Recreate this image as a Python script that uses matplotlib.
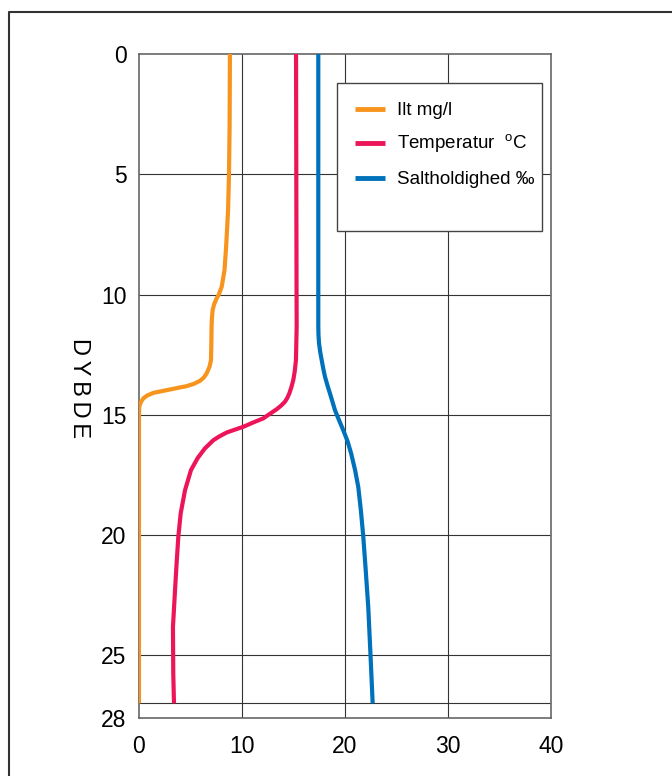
import matplotlib.pyplot as plt
from matplotlib.lines import Line2D
from matplotlib.patches import Rectangle

plt.rcParams['font.family'] = ['Liberation Sans', 'DejaVu Sans']
plt.rcParams['mathtext.fontset'] = 'custom'
plt.rcParams['mathtext.rm'] = 'Liberation Sans'

# -------- data -----------------------------
depth_ilt = [0, 3, 5, 6.5, 8.1, 9.0, 9.68, 10.0, 10.16, 10.4, 10.65, 11.0, 11.34,
             12.2, 12.73, 13.0, 13.28, 13.45, 13.59, 13.72, 13.81, 13.88, 13.95,
             14.02, 14.09, 14.2, 14.32, 14.5, 14.67, 15.0, 27.0]
ilt = [8.83, 8.8, 8.74, 8.65, 8.45, 8.3, 8.03, 7.75, 7.54, 7.3, 7.15, 7.08, 7.05,
       7.02, 6.99, 6.85, 6.57, 6.3, 5.92, 5.3, 4.63, 3.8, 3.01,
       2.2, 1.39, 0.8, 0.42, 0.15, 0.03, 0.0, 0.0]

depth_temp = [0, 10, 11.34, 12.73, 13.2, 13.56, 13.85, 14.11, 14.3, 14.46, 14.62,
              14.77, 14.95, 15.15, 15.32, 15.5, 15.62, 15.74, 15.9, 16.06, 16.4,
              16.8, 17.3, 18.14, 19.1, 20.08, 21.2, 22.3, 23.82, 25.76, 27.0]
temp = [15.25, 15.3, 15.31, 15.24, 15.12, 14.98, 14.8, 14.6, 14.4, 14.17, 13.8,
        13.37, 12.75, 12.07, 11.1, 10.13, 9.3, 8.51, 7.8, 7.22, 6.4,
        5.7, 5.05, 4.47, 4.05, 3.82, 3.65, 3.5, 3.3, 3.33, 3.4]

depth_salt = [0, 11.3, 11.7, 12.03, 12.4, 12.73, 13.1, 13.42, 13.75, 14.11, 14.45,
              14.81, 15.2, 15.64, 16.1, 16.61, 17.3, 18.0, 19.0, 20.08, 21.5,
              22.99, 25.0, 27.0]
salt = [17.41, 17.41, 17.43, 17.48, 17.6, 17.74, 17.9, 18.06, 18.28, 18.54, 18.78,
        19.03, 19.4, 19.83, 20.25, 20.6, 20.98, 21.29, 21.55, 21.78, 22.02,
        22.26, 22.48, 22.69]

labels = ['Ilt mg/l', r'Temperatur  $^{\rm o}$C', 'Saltholdighed \u2030']
colors = ['#F7941D', '#EC1559', '#0072BC']

xticks = [0, 10, 20, 30, 40]
yticks = [0, 5, 10, 15, 20, 25]
y_bottom = 27.63

# -------- figure ----------
fig = plt.figure(figsize=(6.72, 7.76), dpi=100)
ax = fig.add_axes([0.2068, 0.0741, 0.6131, 0.8563])

for d, v, c in zip([depth_ilt, depth_temp, depth_salt], [ilt, temp, salt], colors):
    ax.plot(v, d, color=c, lw=3, solid_capstyle='butt', solid_joinstyle='round',
            zorder=3)

ax.set_xlim(0, 40)
ax.set_ylim(y_bottom, 0)
ax.set_xticks(xticks)
ax.set_yticks(yticks + [y_bottom])
ax.set_yticklabels([str(t) for t in yticks] + ['28'])
ax.tick_params(length=0, labelsize=16.5)
ax.tick_params(axis='y', pad=9)
ax.tick_params(axis='x', pad=12)

# grid
for t in [10, 20, 30]:
    ax.axvline(t, color='#333333', lw=0.8, zorder=1)
for t in [5, 10, 15, 20, 25, 27]:
    ax.axhline(t, color='#333333', lw=0.8, zorder=1)

for s in ax.spines.values():
    s.set_color('#666666')
    s.set_linewidth(1.2)

# legend box, drawn by hand so the padding matches (empty space at bottom)
ax.add_patch(Rectangle((0.481, 0.734), 0.497, 0.222, transform=ax.transAxes,
                       facecolor='white', edgecolor='#444444', lw=1.0, zorder=5))
row_y = [0.917, 0.866, 0.814]
for y, c, lab in zip(row_y, colors, labels):
    ax.plot([0.524, 0.597], [y, y], transform=ax.transAxes, color=c, lw=3.5,
            solid_capstyle='butt', zorder=6)
    ax.text(0.626, y - 0.009, lab, transform=ax.transAxes, fontsize=13.5,
            va='baseline', ha='left', zorder=6)

fig.text(0.118, 1 - 388 / 776, 'D\u2009Y\u2009B\u2009D\u2009E', rotation=-90,
         ha='center', va='center', fontsize=17)

# outer frame (left and top edges)
fig.add_artist(Line2D([8.5 / 672, 8.5 / 672, 1.0], [0.0, 1 - 12 / 776, 1 - 12 / 776],
                      transform=fig.transFigure, color='#333333', lw=1.5))

fig.savefig('out.png', dpi=100)
